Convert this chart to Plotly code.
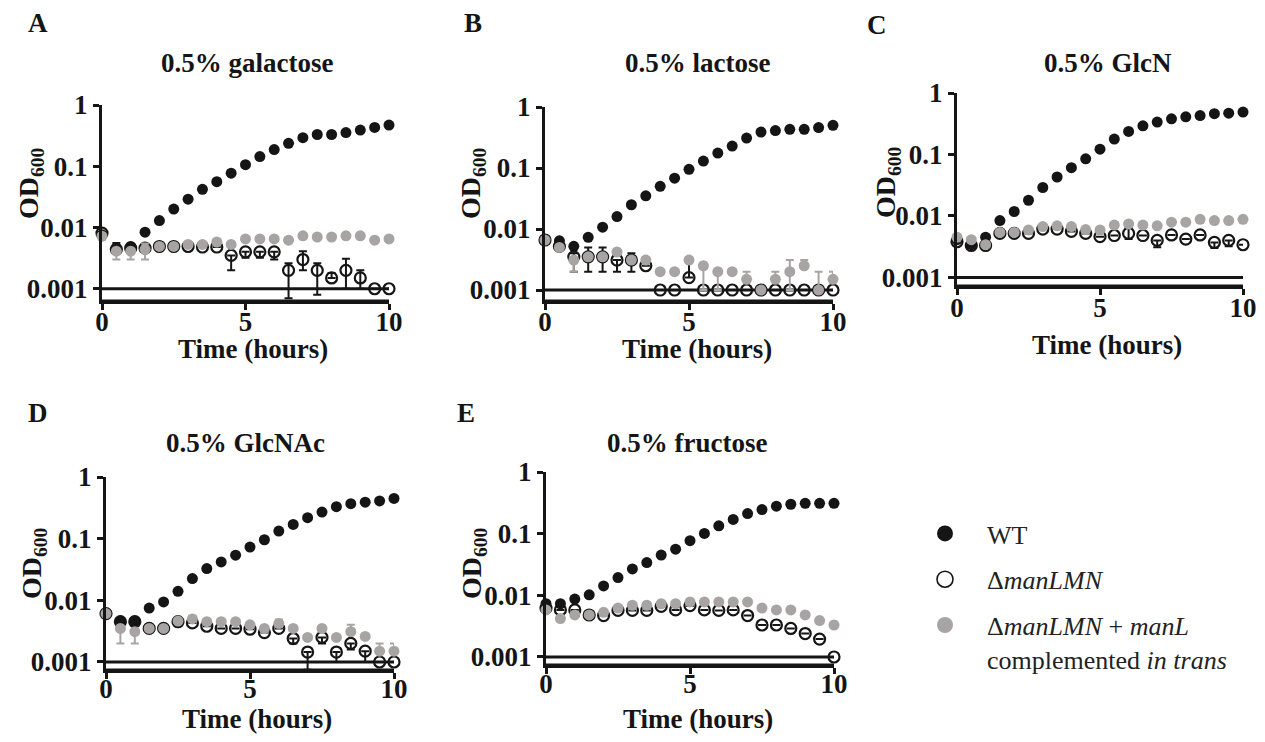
import plotly.graph_objects as go

# page is 1265x742; the html body adds an 8px margin, so the figure is 16px smaller
PAGE_W, PAGE_H = 1265, 742
OFF = 8
W, H = PAGE_W - 2 * OFF, PAGE_H - 2 * OFF

time_h = [0, 0.5, 1, 1.5, 2, 2.5, 3, 3.5, 4, 4.5, 5, 5.5, 6, 6.5, 7, 7.5, 8, 8.5, 9, 9.5, 10]
series_names = ["WT", "Δ<i>manLMN</i>", "Δ<i>manLMN</i> + <i>manL</i><br>complemented <i>in trans</i>"]
panel_titles = ["0.5% galactose", "0.5% lactose", "0.5% GlcN", "0.5% GlcNAc", "0.5% fructose"]
panel_letters = ["A", "B", "C", "D", "E"]
ytick_vals = [0.001, 0.01, 0.1, 1]
ytick_text = ["0.001", "0.01", "0.1", "1"]
xtick_vals = [0, 5, 10]
detection_limit = 0.001

# ---- A: galactose
gal_wt = [0.0076, 0.0046, 0.0049, 0.0084, 0.013, 0.020, 0.029, 0.042, 0.056, 0.077, 0.106,
          0.144, 0.187, 0.237, 0.293, 0.33, 0.33, 0.354, 0.39, 0.43, 0.47]
gal_mut = [0.0081, 0.0044, 0.0046, 0.0046, 0.0049, 0.0049, 0.0049, 0.0048, 0.0048, 0.0035, 0.0040,
           0.0040, 0.0040, 0.0020, 0.0030, 0.0020, 0.0015, 0.0020, 0.0015, 0.0010, 0.0010]
gal_mut_up = [0, 0.0012, 0.0006, 0, 0, 0, 0, 0, 0, 0, 0, 0, 0, 0.0006, 0.0011, 0.0006, 0.0003, 0.0011, 0.0005, 0, 0]
gal_mut_dn = [0, 0, 0, 0, 0, 0, 0, 0, 0, 0.0015, 0.0008, 0.0008, 0.0010, 0.0013, 0.0010, 0.0012, 0, 0.0010, 0.0005, 0, 0]
gal_comp = [0.0072, 0.0041, 0.0041, 0.0044, 0.0049, 0.0049, 0.0053, 0.0053, 0.0058, 0.0053, 0.0065,
            0.0065, 0.0065, 0.0062, 0.0073, 0.0070, 0.0070, 0.0073, 0.0073, 0.0062, 0.0065]
gal_comp_up = [0, 0, 0, 0.0011, 0, 0, 0, 0, 0, 0, 0, 0, 0, 0, 0, 0, 0, 0, 0, 0, 0]
gal_comp_dn = [0, 0.0011, 0.0011, 0.0014, 0, 0, 0, 0, 0, 0, 0, 0, 0, 0, 0, 0, 0, 0, 0, 0, 0]

# ---- B: lactose
lac_wt = [0.0068, 0.0064, 0.0052, 0.0073, 0.0107, 0.016, 0.025, 0.035, 0.050, 0.068, 0.095,
          0.13, 0.176, 0.229, 0.31, 0.389, 0.41, 0.43, 0.43, 0.46, 0.50]
lac_mut = [0.0066, 0.0052, 0.0035, 0.0035, 0.0035, 0.0031, 0.0031, 0.0025, 0.0010, 0.0010, 0.0016,
           0.0010, 0.0010, 0.0010, 0.0010, 0.0010, 0.0010, 0.0010, 0.0010, 0.0010, 0.0010]
lac_mut_up = [0, 0, 0.0005, 0.0015, 0.0015, 0, 0.0009, 0, 0, 0, 0.0015, 0, 0, 0, 0, 0, 0, 0, 0, 0, 0]
lac_mut_dn = [0, 0, 0.0015, 0.0015, 0.0015, 0.0011, 0.0011, 0, 0, 0, 0, 0, 0, 0, 0, 0, 0, 0, 0, 0, 0]
lac_comp = [0.0066, 0.0050, 0.0031, 0.0035, 0.0035, 0.0042, 0.0031, 0.0031, 0.0020, 0.0020, 0.0031,
            0.0025, 0.0020, 0.0020, 0.0015, 0.0010, 0.0015, 0.0020, 0.0025, 0.0010, 0.0015]
lac_comp_up = [0, 0, 0, 0, 0, 0, 0, 0, 0, 0, 0, 0, 0, 0, 0.0005, 0, 0.0005, 0.0011, 0.0006, 0.0010, 0.0005]
lac_comp_dn = [0, 0, 0.0011, 0, 0, 0, 0, 0, 0, 0, 0, 0.0015, 0.0010, 0, 0, 0, 0, 0.0010, 0, 0, 0]

# ---- C: GlcN
glcn_wt = [0.0041, 0.0034, 0.0045, 0.0084, 0.0118, 0.018, 0.029, 0.043, 0.061, 0.085, 0.122,
           0.178, 0.237, 0.293, 0.337, 0.38, 0.41, 0.43, 0.46, 0.47, 0.49]
glcn_mut = [0.0038, 0.0033, 0.0033, 0.0052, 0.0052, 0.0052, 0.0061, 0.0061, 0.0056, 0.0052, 0.0046,
            0.0048, 0.0052, 0.0048, 0.0040, 0.0049, 0.0042, 0.0049, 0.0037, 0.0040, 0.0034]
glcn_mut_up = [0, 0, 0, 0, 0, 0, 0, 0, 0, 0, 0, 0, 0.0012, 0, 0, 0, 0, 0, 0, 0, 0]
glcn_mut_dn = [0, 0, 0, 0, 0, 0, 0, 0, 0, 0, 0, 0, 0.0010, 0, 0.0009, 0, 0, 0, 0.0007, 0.0008, 0]
glcn_comp = [0.0045, 0.0041, 0.0034, 0.0054, 0.0054, 0.0059, 0.0067, 0.0069, 0.0067, 0.0060, 0.0059,
             0.0071, 0.0074, 0.0071, 0.0069, 0.0079, 0.0079, 0.0088, 0.0084, 0.0084, 0.0088]
glcn_comp_up = [0] * 21
glcn_comp_dn = [0] * 21

# ---- D: GlcNAc
glcnac_wt = [0.0061, 0.0046, 0.0046, 0.0075, 0.0094, 0.014, 0.0225, 0.0327, 0.042, 0.054, 0.073,
             0.096, 0.133, 0.17, 0.219, 0.27, 0.33, 0.37, 0.39, 0.41, 0.45]
glcnac_mut = [0.0061, 0.0045, 0.0045, 0.0035, 0.0035, 0.0045, 0.0043, 0.0038, 0.0035, 0.0035, 0.0034,
              0.0030, 0.0035, 0.0024, 0.00145, 0.0025, 0.00145, 0.0020, 0.0015, 0.0010, 0.0010]
glcnac_mut_up = [0] * 21
glcnac_mut_dn = [0, 0, 0, 0, 0, 0, 0, 0, 0, 0, 0, 0, 0, 0.0004, 0.0007, 0.0005, 0.00045, 0.0004, 0.0005, 0, 0]
glcnac_comp = [0.0061, 0.0035, 0.0031, 0.0035, 0.0035, 0.0046, 0.0050, 0.0045, 0.0045, 0.0045, 0.0040,
               0.0035, 0.0042, 0.0035, 0.0025, 0.0035, 0.0025, 0.0031, 0.0026, 0.0015, 0.0015]
glcnac_comp_up = [0, 0, 0, 0, 0, 0, 0.0006, 0, 0, 0, 0, 0, 0.0007, 0, 0, 0, 0, 0.0009, 0, 0.0005, 0.0005]
glcnac_comp_dn = [0, 0.0015, 0.0011, 0, 0, 0, 0, 0, 0, 0, 0, 0, 0, 0, 0, 0, 0, 0, 0, 0, 0]

# ---- E: fructose
fru_wt = [0.0073, 0.0073, 0.0087, 0.0102, 0.0142, 0.0194, 0.0268, 0.034, 0.045, 0.056, 0.077,
          0.101, 0.134, 0.17, 0.212, 0.246, 0.279, 0.30, 0.31, 0.31, 0.31]
fru_mut = [0.0062, 0.0058, 0.0058, 0.0048, 0.0047, 0.0057, 0.0057, 0.0057, 0.0066, 0.0058, 0.0068,
           0.0058, 0.0057, 0.0058, 0.0047, 0.0033, 0.0033, 0.0029, 0.0024, 0.00195, 0.0010]
fru_mut_up = [0] * 21
fru_mut_dn = [0] * 21
fru_comp = [0.0058, 0.0042, 0.0048, 0.0048, 0.0053, 0.0062, 0.0069, 0.0069, 0.0073, 0.0073, 0.0078,
            0.0078, 0.0078, 0.0078, 0.0078, 0.0062, 0.0058, 0.0058, 0.0048, 0.0039, 0.0033]
fru_comp_up = [0] * 21
fru_comp_dn = [0] * 21

panels = [
    (gal_wt, gal_mut, gal_mut_up, gal_mut_dn, gal_comp, gal_comp_up, gal_comp_dn),
    (lac_wt, lac_mut, lac_mut_up, lac_mut_dn, lac_comp, lac_comp_up, lac_comp_dn),
    (glcn_wt, glcn_mut, glcn_mut_up, glcn_mut_dn, glcn_comp, glcn_comp_up, glcn_comp_dn),
    (glcnac_wt, glcnac_mut, glcnac_mut_up, glcnac_mut_dn, glcnac_comp, glcnac_comp_up, glcnac_comp_dn),
    (fru_wt, fru_mut, fru_mut_up, fru_mut_dn, fru_comp, fru_comp_up, fru_comp_dn),
]

# ---- layout geometry (page pixels)
geo = [
    ((102, 389), (105, 301), -3.2),
    ((545, 833), (107, 301), -3.18),
    ((957, 1243), (93, 286), -3.14),
    ((106, 394), (477, 670), -3.13),
    ((546, 834), (472, 665), -3.13),
]
xlabel_standoff = [-11, -11, -10, -13, -13]
title_pos = [(247, 63), (697, 63), (1108, 63), (245, 443), (687, 443)]
letter_pos = [(38, 23), (473, 23), (877, 25), (38, 413), (466, 413)]
ytitle_pos = [(30, 183), (472, 183), (888, 182), (33, 563), (473, 563)]
xtitle_pos = [(253, 349), (697, 349), (1107, 345), (257, 719), (698, 719)]

def px(x):
    return (x - OFF) / W

def py(y):
    return 1 - (y - OFF) / H

BLACK = "#151515"
GRAY = "#a9a4a4"
FONT = "Liberation Serif, Times New Roman, Times, DejaVu Serif, serif"

fig = go.Figure()
layout = dict(
    template="none",
    width=W, height=H, margin=dict(l=0, r=0, t=0, b=0, pad=0, autoexpand=False),
    paper_bgcolor="white", plot_bgcolor="white",
    font=dict(family=FONT, color=BLACK),
    showlegend=True,
    legend=dict(x=px(903), y=py(510), xanchor="left", yanchor="top", valign="top",
                font=dict(family=FONT, size=26, color="#222"),
                tracegroupgap=9, itemwidth=74, bgcolor="rgba(0,0,0,0)", borderwidth=0),
)
annotations = []
shapes = []

# legend-only entries (no coordinates)
legend_styles = [
    dict(symbol="circle", size=22, color=BLACK, line=dict(width=0)),
    dict(symbol="circle-open", size=22, color=BLACK, line=dict(width=1.6, color=BLACK)),
    dict(symbol="circle", size=22, color=GRAY, line=dict(width=0)),
]
for k in range(3):
    fig.add_trace(go.Scatter(x=[None], y=[None], mode="markers", name=series_names[k],
                             legendgroup="g%d" % k, showlegend=True, marker=legend_styles[k],
                             xaxis="x", yaxis="y"))

for i, (wt, mut, mut_up, mut_dn, comp, comp_up, comp_dn) in enumerate(panels):
    n = "" if i == 0 else str(i + 1)
    xa, ya = "x" + n, "y" + n
    (xl, xr), (yt, yb), ylo = geo[i]
    fig.add_trace(go.Scatter(
        x=time_h, y=wt, mode="markers", xaxis=xa, yaxis=ya, name=series_names[0],
        showlegend=False, cliponaxis=False,
        marker=dict(symbol="circle", size=11, color=BLACK, line=dict(width=0))))
    fig.add_trace(go.Scatter(
        x=time_h, y=mut, mode="markers", xaxis=xa, yaxis=ya, name=series_names[1],
        showlegend=False, cliponaxis=False,
        error_y=dict(type="data", symmetric=False, array=mut_up, arrayminus=mut_dn,
                     color=BLACK, thickness=2, width=4),
        marker=dict(symbol="circle-open", size=11, color=BLACK, line=dict(width=2.2, color=BLACK))))
    fig.add_trace(go.Scatter(
        x=time_h, y=comp, mode="markers", xaxis=xa, yaxis=ya, name=series_names[2],
        showlegend=False, cliponaxis=False,
        error_y=dict(type="data", symmetric=False, array=comp_up, arrayminus=comp_dn,
                     color=GRAY, thickness=2, width=4),
        marker=dict(symbol="circle", size=11, color=GRAY, line=dict(width=0))))

    layout["xaxis" + n] = dict(
        domain=[px(xl), px(xr)], range=[0, 10], anchor=ya, automargin=False,
        tickvals=xtick_vals, ticktext=[str(v) for v in xtick_vals],
        ticks="outside", ticklen=6, tickwidth=3, tickcolor=BLACK,
        ticklabelstandoff=xlabel_standoff[i],
        showline=True, linewidth=3, linecolor=BLACK, showgrid=False, zeroline=False,
        tickfont=dict(family=FONT, size=27, color=BLACK, weight="bold"))
    layout["yaxis" + n] = dict(
        domain=[py(yb), py(yt)], type="log", range=[ylo, 0], anchor=xa, automargin=False,
        tickvals=ytick_vals, ticktext=ytick_text,
        ticks="outside", ticklen=6, tickwidth=3, tickcolor=BLACK,
        showline=True, linewidth=3, linecolor=BLACK, showgrid=False, zeroline=False,
        tickfont=dict(family=FONT, size=27, color=BLACK, weight="bold"))

    # detection-limit line at OD 0.001
    shapes.append(dict(type="line", xref=xa, yref=ya, x0=0, x1=10,
                       y0=detection_limit, y1=detection_limit,
                       line=dict(color=BLACK, width=3), layer="below"))
    # baseline along the bottom of the plot area (x-axis line)
    shapes.append(dict(type="line", xref=xa + " domain", yref=ya + " domain", x0=0, x1=1,
                       y0=0, y1=0, line=dict(color=BLACK, width=3), layer="above"))

    tx, ty = title_pos[i]
    annotations.append(dict(text="<b>%s</b>" % panel_titles[i], x=px(tx), y=py(ty),
                            xref="paper", yref="paper", showarrow=False,
                            xanchor="center", yanchor="middle",
                            font=dict(family=FONT, size=27, color=BLACK)))
    lx, ly = letter_pos[i]
    annotations.append(dict(text="<b>%s</b>" % panel_letters[i], x=px(lx), y=py(ly),
                            xref="paper", yref="paper", showarrow=False,
                            xanchor="center", yanchor="middle",
                            font=dict(family=FONT, size=27, color=BLACK)))
    yx, yy = ytitle_pos[i]
    annotations.append(dict(text="<b>OD<sub>600</sub></b>", x=px(yx), y=py(yy),
                            xref="paper", yref="paper", showarrow=False, textangle=-90,
                            xanchor="center", yanchor="middle",
                            font=dict(family=FONT, size=28, color=BLACK)))
    xx, xy = xtitle_pos[i]
    annotations.append(dict(text="<b>Time (hours)</b>", x=px(xx), y=py(xy),
                            xref="paper", yref="paper", showarrow=False,
                            xanchor="center", yanchor="middle",
                            font=dict(family=FONT, size=27, color=BLACK)))

layout["annotations"] = annotations
layout["shapes"] = shapes
fig.update_layout(**layout)
fig.write_html("out.html")
